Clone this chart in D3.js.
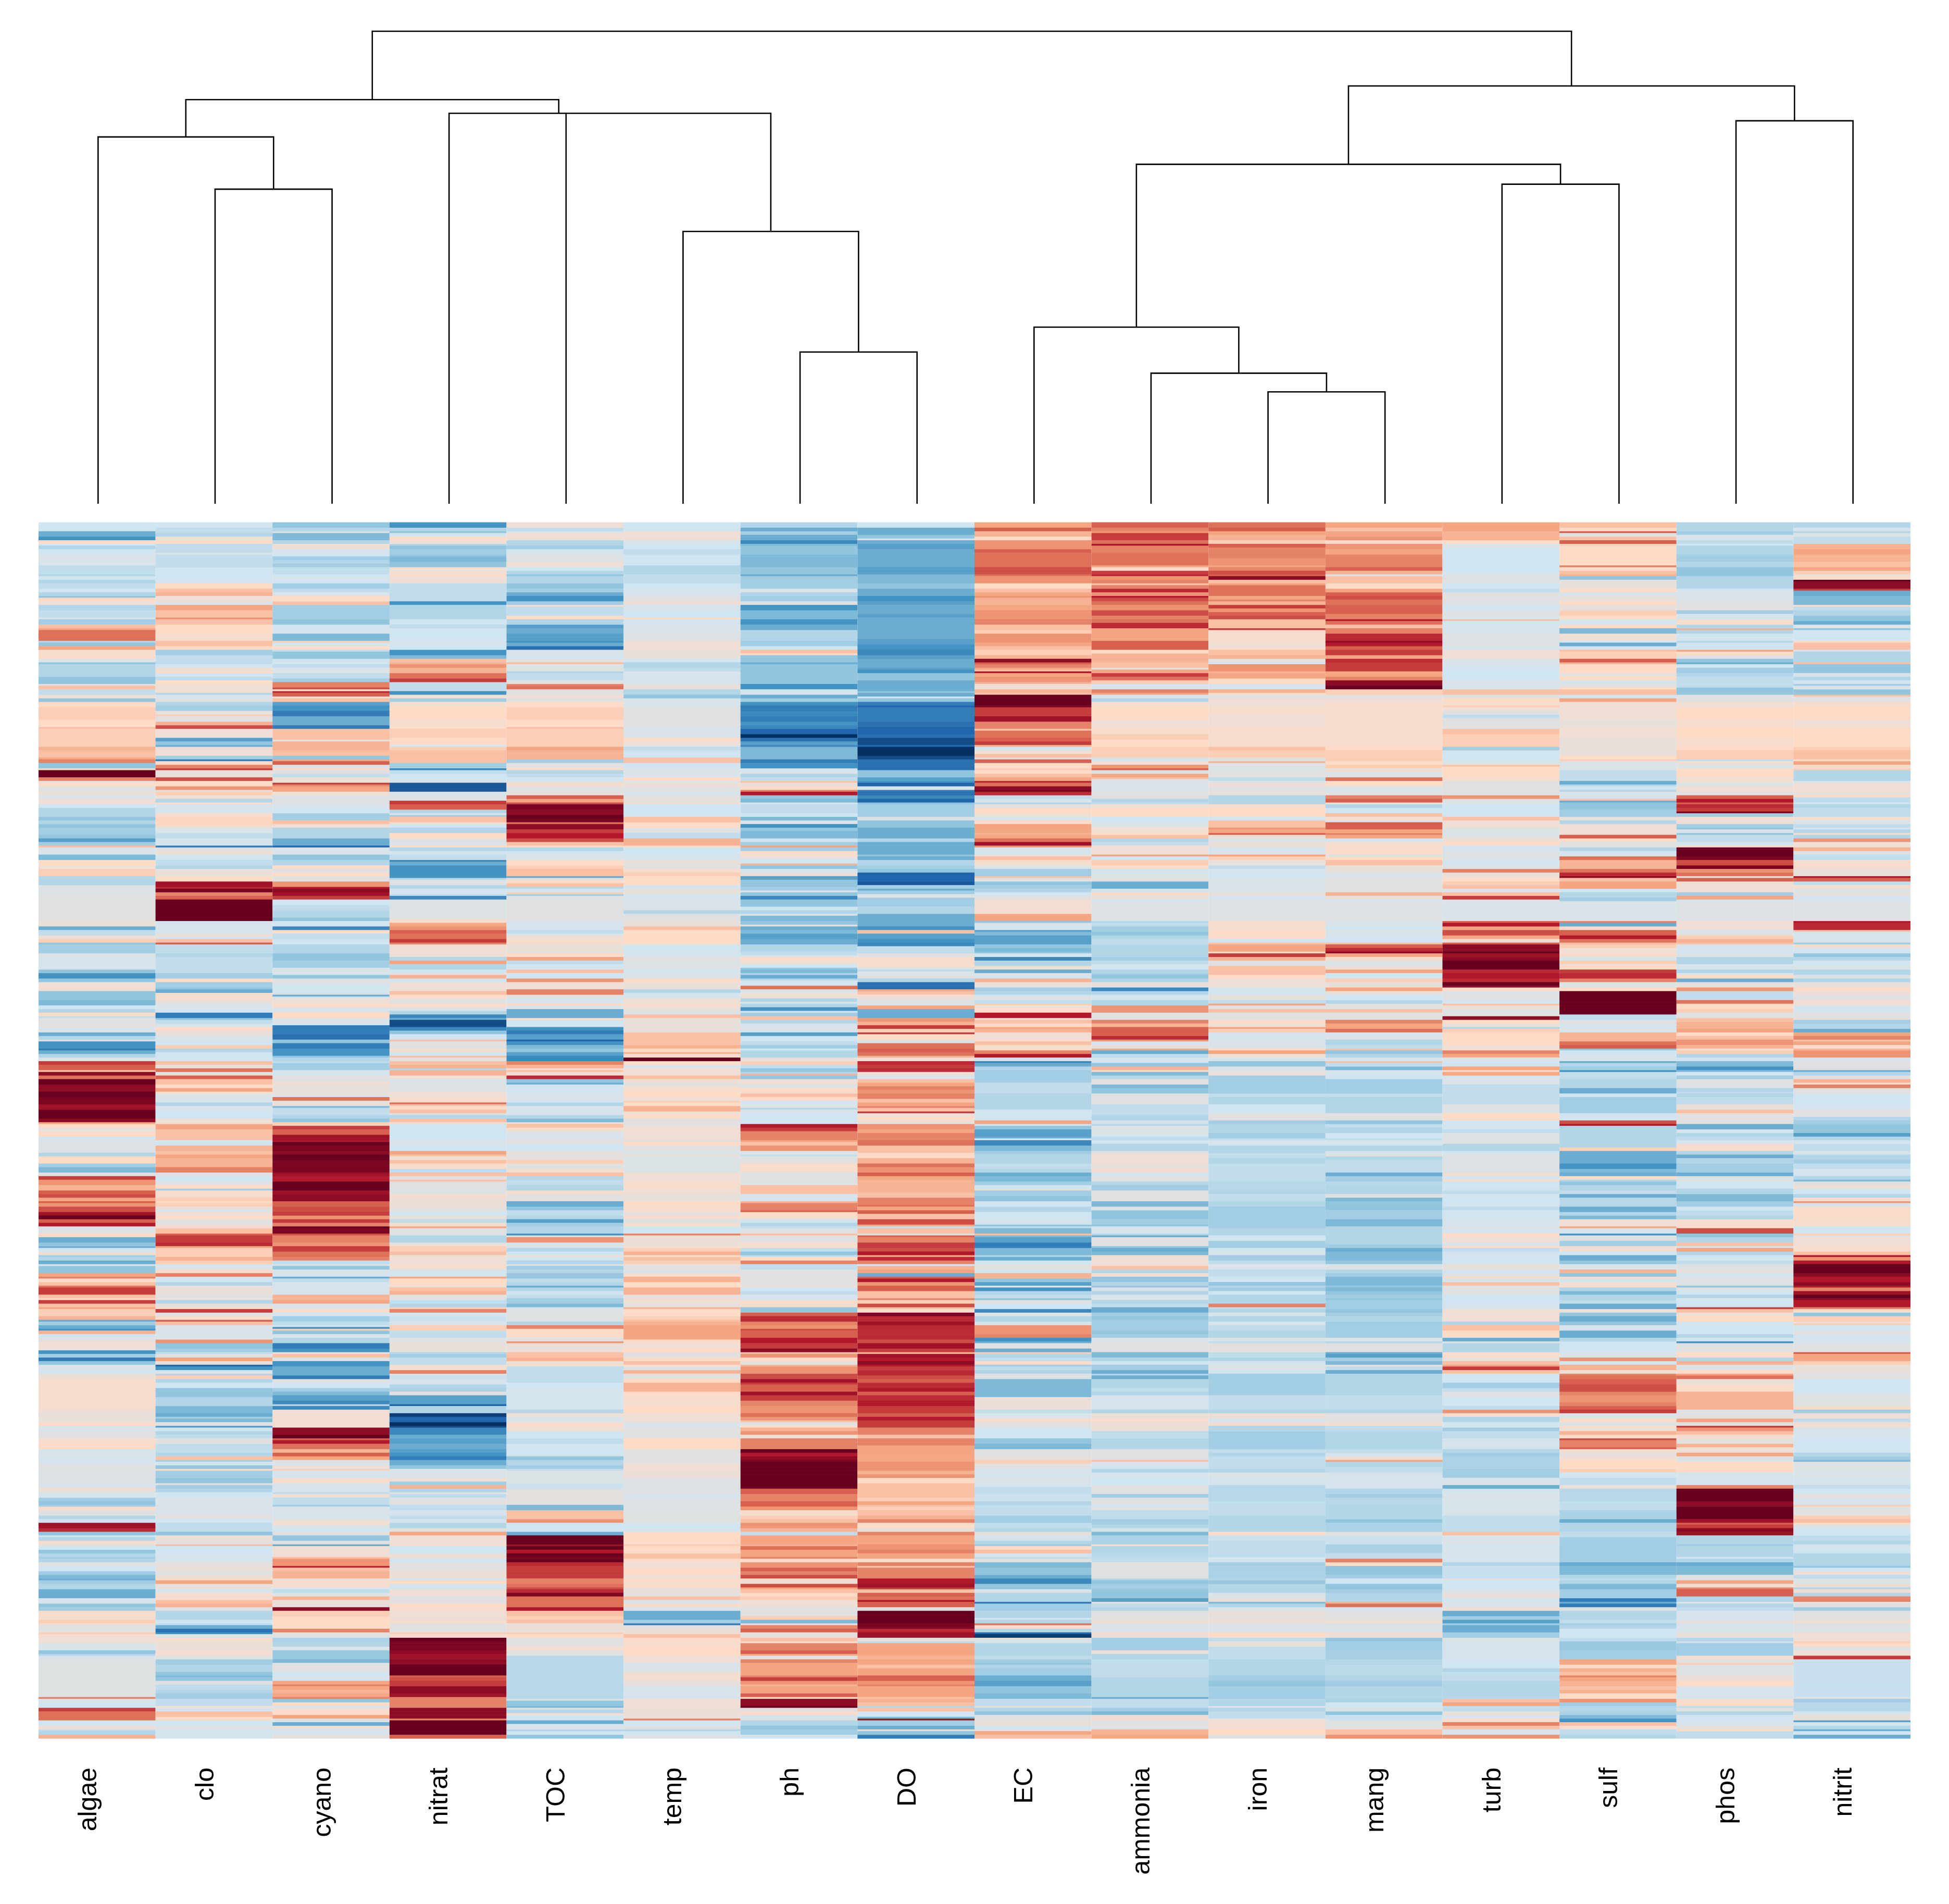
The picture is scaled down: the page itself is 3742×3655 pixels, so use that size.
<!DOCTYPE html>
<html>
<head>
<meta charset="utf-8">
<style>
  html, body { margin: 0; padding: 0; background: #fff; }
  text { font-family: "Liberation Sans", Arial, sans-serif; fill: #000; }
</style>
<script src="https://cdn.jsdelivr.net/npm/d3@7"></script>
</head>
<body>
<svg id="chart" width="3742" height="3655"></svg>
<script>
// columns, left to right, as they come off the tree
const columnas = ["algae","clo","cyano","nitrat","TOC","temp","ph","DO","EC","ammonia","iron","mang","turb","sulf","phos","nitrit"];
const totalFilas = 677;

// each column: [first row of the band, value], value on a -10..10 colour scale
const algae = [[0,-2],[5,-5],[8,-6],[10,2],[12,-2],[13,-3],[15,-2],[18,-1],[24,-2.5],[29,-3],[30,-2],[32,-3],[34,-2.5],[37,-2],[39,-3],[41,-4],[42,2],[44,1],[46,-3],[49,-2.5],[53,-1],[54,-3.5],[57,3],[59,4],[60,5.5],[66,-3],[67,-4],[69,4],[71,1.5],[74,2],[76,-1],[78,-4],[79,-3],[84,-3],[86,-4],[90,0],[91,3],[93,-2.5],[96,1],[98,-4],[100,2],[103,2.5],[110,2],[114,3],[115,2.5],[125,3.5],[127,3],[131,4],[132,5],[134,-4],[137,2],[138,10],[142,5],[144,0],[145,2],[147,0],[150,0.5],[152,-1],[154,1],[157,-2],[159,-3],[164,-4],[166,-3],[168,-4],
 [170,-3.5],[174,-4],[176,-5.5],[178,-3.5],[180,3],[181,-1],[185,-4.5],[188,2],[191,1],[193,2.5],[197,-3],[202,-0.5],[207,0],[222,0.5],[225,-5],[227,-2.5],[230,1],[232,2.5],[234,-4],[235,-3.5],[240,-0.5],[242,-1.5],[249,-4],[251,-6],[254,-4],[256,1],[261,-4],[266,-4.5],[269,-2],[271,-3],[273,1.5],[275,-2.5],[276,0],[281,-1],[284,-5],[286,-3],[288,0],[289,-6],[293,-7],[294,-5],[296,-3],[298,-1],[300,7],[302,6],[305,3],[306,9],[308,5.5],[310,10],[313,9],[317,10],[320,9.5],[324,8.5],[327,10],[332,9],[334,4],[335,2],[337,0.5],[339,2],[342,-2],
 [344,-0.5],[351,-3],[353,2],[357,-3.5],[359,-4.5],[362,0],[364,7],[366,4.5],[369,3.5],[372,6],[374,6.5],[376,4],[378,6],[379,4.5],[381,6.5],[384,8.5],[386,10],[388,6],[390,8],[392,-0.5],[396,2],[398,-5],[401,-4],[403,-5],[404,-2],[406,1],[408,-3.5],[409,-3],[411,-5],[413,-1.5],[414,-4],[418,4],[420,5],[421,2],[423,3],[425,5.5],[426,7],[430,3],[432,2],[433,7],[435,3],[437,4],[438,2.5],[442,3.5],[444,-5],[445,-3.5],[447,-5],[449,-6],[450,3.5],[452,-2],[454,0],[456,1],[461,-6],[463,-3.5],[465,-7],[467,-4],[469,-1],[472,-2],[474,0.7],[477,1.5],[494,0.7],[496,0.5],[501,2],[503,-1],[506,0],[510,1.5],[513,2],[516,-1.5],
 [518,-1],[520,-1.5],[524,0],[527,-0.5],[535,-1.5],[537,0.7],[540,-1.5],[543,-3.5],[545,-4],[547,-3.5],[548,1.5],[550,0],[553,-3],[555,-2],[557,8.5],[560,7.5],[562,-4],[564,-2],[565,-3],[567,1.5],[569,0],[570,-2],[572,-4],[574,-3],[576,-3.5],[577,-3],[579,0],[581,-2],[584,-3.5],[586,-4.5],[588,-5],[589,-3.5],[591,-3],[594,-5],[599,-1.5],[602,-4],[604,-3.5],[606,1.5],[611,2.5],[613,0.8],[614,0],[618,2.5],[619,1.5],[621,1],[624,-1],[628,-4],[630,-3],[631,-1.2],[633,-0.3],[654,5],[655,-1.2],[657,-2],[660,7],[662,5.5],[667,-2],[670,1],[672,-2.5],[673,-3],[675,3.5]];

const clo = [[0,-2],[3,-2.5],[6,-3],[8,1],[10,2],[12,-2.5],[17,0],[18,-2.5],[25,-2],[34,2],[37,3],[39,3.5],[41,1],[44,-1],[46,4],[49,3],[53,4.5],[54,3],[57,2],[62,1.5],[66,3],[69,2],[71,-3.5],[74,-2.5],[79,-2],[81,1],[83,2],[84,-2],[86,-2.5],[88,2],[90,1],[95,-3],[96,-1.5],[98,0],[100,-3],[102,-3.5],[105,0.5],[107,2.5],[108,0],[111,3.5],[113,6.5],[115,1],[120,-5.5],[122,-4],[124,-5],[125,1],[130,-3.5],[132,-7],[133,2],[135,5],[137,7],[138,0.5],[142,6.5],[144,2],[147,4.5],[149,0.5],[150,2.5],[152,1],[154,-3],[156,2],[157,-1.5],[162,1.5],[164,2.2],[169,1],
 [170,-1],[173,-2.5],[176,-1.5],[180,-7],[181,0],[183,1],[185,-2],[188,-2.5],[191,-3],[193,0.5],[197,2],[200,8.5],[203,7.5],[204,9.5],[206,5],[208,6],[210,10],[222,-1.5],[229,0.5],[231,-2],[232,3],[234,6],[235,-2.5],[240,-3],[242,-2.5],[249,-2.5],[251,-3.5],[254,2],[256,-3.5],[259,-4],[260,-5],[262,1.5],[266,0.5],[268,-1],[271,-1.5],[273,-7],[276,-4],[277,-2.5],[279,-1.5],[281,2],[283,0.5],[286,-1.5],[288,-1],[289,-2],[291,2.5],[293,-3],[295,-2],[300,3],[302,0.5],[304,5.5],[306,0],[308,6],[310,3],[313,2],[315,4],[317,2],[318,-1],[323,-3],[325,-1],[327,-2],[332,1],[335,4],[338,3],[342,3],
 [344,-2],[347,3.5],[350,3],[352,4],[354,3.5],[357,3.5],[359,5],[362,0],[364,-2],[367,0],[369,2],[371,-3.5],[372,1.5],[376,2.5],[378,2],[379,2.5],[381,0.5],[383,-1],[384,1],[386,2],[388,0],[390,-1],[391,1.5],[393,3],[396,6],[397,7],[401,7.5],[403,4],[404,2.5],[409,3.5],[411,2.5],[413,-2],[414,-1],[416,1.5],[418,5],[420,-2],[423,-3],[425,0.5],[430,0],[432,1],[433,-3],[435,0.3],[437,2],[438,7],[440,0],[442,1.5],[444,6],[445,3],[447,-1],[455,4.5],[457,-4],[460,-3.5],[462,-2.5],[463,-0.5],[465,4],[467,0.5],[469,-8],[470,-6],[472,-1],[474,-3],[475,2.5],[477,-3],[479,-2],[482,-4],[487,-3],[492,-4.5],[496,-5],[498,-3.5],[499,-4.5],[501,0],[503,-5.5],[504,-2],[506,-3],[508,-2.5],[510,0],[513,-2.5],
 [518,-3],[520,3],[522,-3.5],[523,-1.5],[525,-4],[527,2],[528,-3.5],[532,-4],[535,0],[536,-3.5],[538,-3],[540,-2],[543,-1],[547,-1.2],[548,-1],[553,0],[555,-2],[557,-2.5],[562,-4],[564,0.7],[567,0],[569,3],[570,-2],[572,-2],[574,-1.5],[579,0.3],[581,0.5],[584,-0.5],[586,0.7],[588,2],[589,4],[591,0.5],[594,-1.5],[596,1.5],[600,3],[602,3.5],[604,-0.5],[606,-3],[611,-2],[613,-2.5],[614,-5],[616,-7.5],[618,-6],[619,-1],[621,1.5],[623,0.7],[628,1.2],[631,0],[633,-3.5],[636,-3],[640,-4],[642,-4.5],[643,-4],[645,0],[647,-2.5],[650,-3],[652,-3.5],[655,-2.5],[659,1],[660,-1.5],[662,3],[665,2],[667,-2],[670,0],[672,-1.8]];

const cyano = [[0,-4],[3,-3],[5,0],[6,-4.5],[10,-3],[12,1],[15,-1.5],[18,-2],[19,-3.5],[21,-3],[23,-3.5],[25,-2.5],[29,-2],[31,-1],[32,-2],[34,-3.5],[37,-2.5],[39,-1],[41,1.8],[44,3],[46,-3.5],[54,-4],[57,-2],[59,-1.5],[62,-4.5],[66,2.5],[67,-2],[69,2],[71,-2.5],[72,-4],[74,-4],[76,-2],[79,-2.5],[81,-1],[84,-2.5],[87,-3.5],[89,5],[92,6.5],[93,2],[94,7.5],[95,6],[97,1],[98,3],[100,-5.5],[102,-6],[105,-7],[108,-5],[111,-5],[113,-7],[115,3],[120,3],[121,0],[122,3.5],[125,3.5],[127,3],[130,-4],[132,4],[133,6],[135,0],[137,1.5],[138,0],[140,-2.5],[142,1],[144,0.5],[145,7],[146,5],[147,4],[150,1],[152,-0.5],[157,-1],[159,-2],[162,-3.5],[166,3],[168,1],
 [170,-3],[173,-3],[176,-5],[180,-8],[181,-1],[185,-4],[188,-3],[191,2],[193,0],[195,2],[197,0],[200,4.5],[203,8],[204,9],[206,8.5],[208,7],[210,-2],[213,-2.5],[216,-3],[220,-4],[222,-2],[225,-6.5],[227,2],[229,-2.5],[232,-2],[235,-3],[240,-4],[244,-3.5],[248,-1],[252,-4],[254,0],[257,-2],[260,-1.5],[263,-5],[264,-2],[265,1],[268,2],[270,-1.5],[272,-0.5],[273,2],[276,-1],[280,-7],[285,-7.5],[288,-4],[290,-7],[293,-6],[297,-4],[298,-3],[300,-2.5],[301,-3.5],[305,-1],[306,-2],[308,0],[311,1],[313,0.5],[319,-1.5],[320,5.5],[322,0.5],[325,-4.5],[326,-2.5],[330,-3],[332,-4],[334,2.5],[336,7],[338,6],[341,8.5],
 [344,8],[345,10],[347,9.5],[350,9],[352,10],[355,9.5],[360,9.5],[362,8.5],[364,8],[367,10],[372,8.5],[374,9],[378,6],[381,6.5],[384,7],[386,4.5],[388,7],[390,5],[392,10],[393,9.5],[396,6.5],[397,5],[401,4.5],[403,7],[406,5.5],[409,5],[411,-2.5],[413,-1],[414,-4],[416,-0.5],[418,-2],[420,-5],[421,-2.5],[423,-1.5],[430,3.5],[433,4],[435,-1],[438,2],[440,-2],[442,-3.5],[445,-2.5],[447,-2],[448,-6],[449,2.5],[450,-4],[452,-1],[454,-3],[457,-7],[460,-6],[462,0.5],[463,3],[465,-1],[467,-6],[470,-5],[475,-7],[477,0],[479,-2],[482,-3.5],[484,-4.5],[486,-5.5],[489,-6.5],[491,-3],[492,-6.5],[494,1.2],[504,9],[508,10],[510,6],[511,8],[513,5.5],[516,3.5],
 [518,6],[520,4],[522,0],[523,-1],[525,0.7],[527,2.5],[528,-1.5],[532,1.5],[535,-1],[538,-1.5],[540,-2.5],[541,1],[543,-2.5],[547,-3.5],[548,-1],[552,-1.5],[553,-1],[555,0.7],[557,2],[558,-1],[560,-2],[562,0],[564,-4],[567,0],[569,-5],[570,1],[576,3],[577,4.5],[581,7.5],[582,3],[584,3.5],[588,0.5],[589,1.5],[593,-1],[594,-2.5],[596,-1],[598,3.5],[600,0.7],[602,0.3],[604,9],[606,2.5],[609,2],[612,2],[616,5],[618,0],[621,-3.2],[623,-3],[626,-1],[628,-3.8],[633,-4.5],[635,-1],[636,0],[640,-2],[642,-1.5],[645,4],[647,5],[648,4],[650,3.5],[652,4],[654,5],[655,-4],[657,2],[659,-2],[660,1.2],[662,2],[664,4],[666,-1],[668,-5],[670,0.7],[672,-1.5],[675,0.3]];

const nitrat = [[0,-6],[3,-3],[5,-4],[6,-2],[8,2],[10,1],[12,-3],[13,-4],[15,-3.5],[18,-4],[19,-4.5],[22,-4],[25,1.2],[29,2],[30,1],[34,-2.5],[44,-6],[46,-3],[54,-2],[57,-2.5],[59,-2],[66,-1.5],[69,-2],[71,-6],[74,-4.5],[76,3],[78,3.5],[79,4.5],[81,3.5],[84,5.5],[87,7],[89,-2.5],[94,-6],[96,1],[98,-3.5],[100,1.5],[103,2],[110,1.5],[114,2],[115,2.5],[120,2],[124,-2],[125,2.5],[127,3],[132,3],[134,-3.5],[137,-6.5],[138,-2.5],[140,-2],[144,-1],[145,-8.5],[150,-1],[152,-0.5],[155,7],[157,6],[160,-3],[162,-1],[163,-3.5],[164,3],[167,1.5],[168,-2],
 [170,-3],[173,2],[176,0],[178,-1],[180,2],[181,-3],[183,-2],[185,-2.5],[188,-6.5],[189,-5],[191,-6],[195,-6],[198,-3],[199,-0.5],[202,-3],[204,-2],[206,-1],[207,-2.5],[208,-6.5],[210,-0.5],[221,1.5],[222,2],[223,4],[225,4.5],[227,6],[229,5.5],[232,7],[234,5],[235,1],[240,1],[242,-3],[244,4],[246,-3],[249,-2],[251,0.5],[252,3.5],[254,-2],[256,1],[261,3],[263,2],[265,0.5],[266,0],[268,2],[270,-1],[272,-3],[274,-6.5],[276,-5],[277,-9],[281,-6.5],[283,-4],[285,-2],[288,3],[289,0],[293,1.5],[295,-2],[297,3],[298,0],[300,3],[302,3.5],[304,-3],[305,3.5],[308,1],[310,-1],[313,-0.5],[317,1],[320,1.5],[323,5.5],[324,3],[325,2],[327,3],[329,-1],[330,-3],[332,3],[334,1],[335,-2],
 [344,-1],[347,-2],[350,4],[352,3],[353,1],[355,3],[357,1.8],[360,-2.5],[362,3],[364,0],[366,3],[367,0],[371,-0.5],[374,1.5],[376,0.7],[382,0],[384,-2],[386,0.5],[388,-2.5],[390,1.5],[392,4],[393,-0.5],[397,-3],[401,0.5],[403,2.5],[406,3],[408,1],[413,1.5],[416,-2],[418,-1.5],[420,4],[421,2],[425,0.7],[426,3],[428,3.5],[430,0],[433,-2.5],[435,-3],[437,2.5],[438,5],[440,-1.5],[442,-2.2],[445,-1.5],[447,2.5],[450,-2.5],[454,-0.5],[456,0.5],[462,-3],[463,-3.5],[465,-2.5],[469,1.2],[472,5],[474,0],[475,-2.2],[477,-1.5],[480,-3],[482,-3.2],[484,0],[486,-5.5],[491,-8],[492,-3],[496,-9.5],[498,-8],[501,-10],[503,-9],[504,-6.5],[508,-5],[510,-5.5],[513,-5],[516,-5.5],
 [518,-6],[520,-7],[522,-5],[525,-4],[527,-1],[532,1],[534,-3.5],[536,3.5],[538,-3],[540,0],[541,-2.5],[543,-0.5],[545,0.3],[547,-2.5],[550,-1.5],[553,-2.5],[555,-1.5],[557,-3],[560,0],[562,4],[564,1],[569,1.5],[570,-2],[574,0.7],[577,-2],[579,0],[584,0.8],[588,-2],[589,2],[591,-1.5],[594,1],[598,0],[602,2],[604,1.5],[606,1.2],[609,0.8],[611,1.5],[613,0],[618,2.5],[619,1.5],[621,10],[623,9.5],[626,9.5],[628,9],[630,8.5],[633,9],[636,10],[642,6],[643,6.5],[645,7],[648,9],[652,8.5],[654,5],[660,9],[666,5],[667,10],[675,6]];

const TOC = [[0,1],[3,-2.5],[5,-1],[6,1],[10,-3],[13,-3.5],[15,-2],[16,-1.5],[18,-0.5],[22,1],[25,-2],[27,-3],[29,-4],[30,-3],[34,-4],[37,-3.5],[39,-5],[41,-6],[44,-3.5],[46,1],[47,-2.5],[52,2],[54,-3],[57,-5.5],[59,-5],[62,-5.5],[66,-6],[67,-5],[69,-7.5],[71,-1],[74,-2],[76,0],[78,3],[79,-1],[81,0],[83,-3],[84,-2.5],[88,0],[90,5],[91,5.5],[93,0],[96,1],[98,0],[100,2],[103,2.5],[110,2],[114,3],[115,2.5],[125,4],[127,3.5],[132,-3.5],[134,0],[137,2],[138,-3],[140,-2.5],[142,-2],[144,0],[145,1.5],[147,0],[150,0.5],[152,6],[154,4],[156,6.5],[157,9.5],[160,9],[163,10],[165,9.5],[167,5.5],[168,9],
 [170,9],[171,7],[173,8],[176,6.5],[178,3],[180,2],[181,-3],[183,-2],[185,-1],[188,2],[191,2.5],[193,3],[197,-5],[198,0],[199,1.5],[201,3],[203,-3],[204,-2],[206,2.5],[207,-3.5],[208,-0.5],[210,0],[222,-1.5],[227,-2.5],[229,-1],[230,1],[232,1.5],[235,0.5],[240,2],[242,4],[244,-2.5],[246,-2],[249,3],[251,-2],[254,4.5],[256,1],[260,5],[263,0],[265,-2],[266,-1],[268,2],[269,-1],[271,-5],[276,2],[277,-2],[281,-6],[283,-7],[285,-5.5],[288,-8],[289,-6],[291,-4.5],[293,-4],[295,-5.5],[297,-6.5],[300,5],[302,3.5],[304,1.5],[305,3],[306,1],[308,7.5],[310,-4],[312,-5],[313,-2],[317,-1.5],[320,-1],[322,-2],[323,-3],[325,-1],[327,-1.5],[330,-3],[332,-4.5],[334,1],[335,3],[337,1.5],[339,-1],
 [344,0.3],[346,-2],[350,0.3],[355,2.5],[357,0],[360,1.5],[362,3],[364,-3],[366,-2.5],[369,-3],[372,1.5],[374,0],[378,-5],[381,-4],[383,-2.5],[386,-3],[388,-5.5],[390,-3.5],[392,-3],[396,-6],[397,0],[398,4.5],[401,-1.5],[403,-1],[404,-3],[406,-2],[408,0.7],[409,-2],[411,-3],[413,-1],[414,-3.5],[416,-3],[418,-3.8],[420,-4],[421,-2.5],[423,-3],[425,-5],[426,-3],[428,-2],[430,-2.5],[432,-3.5],[435,-4.5],[437,-2],[438,-0.3],[445,-3],[447,5],[449,2],[452,1.8],[454,0],[456,4.5],[457,0.7],[462,3],[465,3.5],[467,1],[470,-2.5],[479,-2],[482,-1.8],[494,-2.8],[496,1],[498,-1],[501,1.5],[504,1],[506,-2],[510,-2.5],[513,-2],
 [518,-2],[520,-4],[522,-3],[525,-3.5],[527,-2.5],[528,-0.8],[535,-2.2],[538,0],[540,0.3],[547,-4.5],[550,3],[553,3],[555,4.5],[557,-2],[562,-5],[564,10],[569,8.5],[570,10],[572,8],[574,10],[576,9.5],[577,10],[579,7.5],[581,7],[588,5],[591,5.5],[593,6.5],[594,7.5],[596,9.5],[598,5.5],[604,8],[606,3],[609,2.5],[611,3],[613,0.7],[618,2.5],[619,2],[621,0],[626,1.5],[628,0],[631,-2.8],[655,0],[656,-4],[659,-4.5],[660,0],[661,-2.8],[663,1.5],[664,-2],[667,-5],[669,-1],[672,-3],[673,-2],[675,-4]];

const temp = [[0,-2],[5,1],[10,-1.5],[12,-2],[15,-2.5],[18,-2],[24,-3],[29,-2.5],[34,-2],[37,-1.5],[41,0],[44,1],[46,-1.5],[49,-2],[53,2],[54,-1.5],[57,-1],[62,-0.5],[66,1],[71,0.5],[76,-2],[78,-3],[81,-2.5],[83,-1],[84,-1.5],[90,0.5],[93,-3],[96,-4],[98,-1],[103,0],[114,-1.5],[115,-1],[120,2],[122,1],[124,-1],[125,-2.5],[127,-2],[131,3],[134,-2],[137,-1],[142,2],[144,-1],[145,1],[147,0],[150,-1.5],[152,0],[154,0.5],[156,1.5],[157,-2],[164,3],[167,2],
 [170,0],[173,-2.5],[176,3.5],[180,2],[181,-2],[185,-1.5],[188,0.5],[191,0],[193,1.5],[195,2.5],[197,2],[202,-1.5],[204,0.5],[207,-1.5],[210,-1],[216,-3],[218,0],[222,0.5],[225,3],[227,2],[235,-2],[239,-1.5],[242,0],[244,-0.5],[249,-1.5],[251,-1],[254,2],[256,0.5],[260,-3],[262,-1.5],[265,1],[268,1.5],[270,0.5],[272,-0.5],[274,3],[276,0.5],[284,3],[291,3.5],[293,2],[295,3.5],[296,1.5],[298,10],[300,2],[302,-1],[304,1],[308,3],[310,1],[312,0],[314,1.5],[317,2],[320,1],[322,2.5],[323,2],[325,3.5],[328,1],[330,2],[332,0],[336,1],
 [344,0],[345,2],[347,0],[350,-1],[352,0.5],[353,-0.7],[362,1],[367,1.5],[371,1],[374,0.5],[378,2],[381,1.5],[384,0.3],[386,1.5],[388,-0.5],[390,1.5],[392,-2],[396,5],[397,0.7],[403,1.5],[404,2.5],[406,3.5],[408,2],[409,3],[411,2.5],[413,0.3],[416,-0.5],[418,1.5],[420,3.5],[423,2],[426,3.5],[430,0.5],[432,1],[435,0.3],[437,3.5],[438,2],[442,2.5],[444,3],[445,3.5],[447,4],[455,2],[457,1],[460,2],[462,0],[465,2],[467,3],[469,2],[470,-0.5],[472,3.5],[474,0],[477,2],[479,3.5],[484,2],[486,1.5],[492,2],[496,1],[501,-1],[504,0],[510,2],[516,0],
 [518,-0.2],[524,1],[527,0.8],[532,-0.5],[541,-1.5],[543,-0.5],[550,-0.3],[557,-2],[562,2],[569,2.5],[570,2],[574,3],[577,2],[579,1],[582,2],[586,1],[588,2],[589,1.5],[591,2],[593,0.7],[596,0],[598,3],[600,-1],[602,1.5],[604,-1],[606,-5],[611,-3.5],[613,-7],[614,0],[616,0.8],[619,3],[621,2],[623,1.5],[626,2],[631,1],[635,-1],[640,1.2],[645,0.3],[648,-1.2],[655,1],[660,0.7],[666,5],[667,-2],[670,0],[672,-3],[673,-2],[675,-0.5]];

const ph = [[0,-3],[3,-5],[5,-3.5],[7,-5],[10,-6.5],[12,-4.5],[13,-4],[18,-4.5],[25,-4],[29,-5],[30,-3.5],[37,-1],[39,-3],[41,-3.5],[44,0],[46,-6],[49,-4.5],[54,-6],[57,-5],[60,-3],[66,-3.5],[69,-2],[71,3],[73,2],[74,-4],[78,-5],[79,-4],[90,-6],[93,-1.5],[96,-5],[98,-3.5],[100,-6],[102,-7],[105,-6.5],[108,-7],[111,-6],[113,-6.5],[115,-8],[118,-10],[120,-7.5],[122,-5.5],[124,-6.5],[125,-4.5],[132,-7],[134,-6],[137,-2],[138,-1],[140,-3],[142,-2.5],[144,3],[145,0.5],[147,2],[149,5],[150,8],[152,-4],[154,-4.5],[156,-1],[157,-2.5],[162,-2],[164,-4.5],[166,-1],[168,-6],
 [170,-4],[172,-4.5],[176,-2],[178,-3.5],[180,4],[181,-3.5],[183,2],[185,1],[187,-1],[188,-2],[190,3.5],[191,-4],[193,-1.5],[195,0.5],[197,-5.5],[199,-4],[203,-3.5],[205,-1],[206,-4],[208,-6.5],[210,-4],[214,-2],[216,-3],[218,-1],[219,-4.5],[222,-4],[224,0.5],[225,-5],[227,-4.5],[229,-5.5],[232,-5],[235,-3],[239,-2.5],[241,-2],[242,2],[244,1],[246,-2],[248,-4],[249,-4.5],[251,-3],[252,-5],[254,-3],[255,-2],[258,5.5],[260,-1],[262,1],[265,-3],[267,-1],[268,-3],[270,-6],[272,-2],[273,-3.5],[275,3],[277,-3],[279,-1.5],[281,-0.5],[283,-2],[284,-5.5],[286,-2],[289,-2.5],[291,-3.5],[293,-2],[294,-3],[298,0.5],[300,2.5],[302,-2.5],[304,-4],[306,-3],[307,3.5],[308,-4],[310,1],[313,-1],[315,2],[317,1.5],[318,3],[320,2],[322,-2],[324,-1],[326,-3],[327,-1],[329,-2],[335,8],[337,7],[339,5],
 [344,4],[345,3],[347,4.5],[350,-1],[352,-2.5],[353,0],[357,2],[359,1.5],[362,-0.5],[364,0],[367,-0.5],[369,3],[374,-1.5],[378,3.5],[379,5],[383,6],[384,2],[386,1.5],[388,-2],[390,-3],[392,-2.5],[393,-0.5],[396,3],[397,0],[401,1.5],[404,-2.5],[406,-4],[408,-2.5],[409,2],[411,5],[413,-2.5],[416,-0.3],[418,0],[425,1],[426,-2],[428,-2.5],[430,-1.5],[433,1.5],[437,-4],[440,6],[442,7.5],[445,5],[447,4.5],[449,6.5],[450,6],[454,8],[457,7],[460,9],[462,3],[463,4.5],[465,2],[467,0],[469,3.5],[470,4.5],[474,6.5],[477,8.5],[479,7],[480,6],[484,8.5],[486,7],[489,5],[492,4.5],[496,5.5],[498,4.5],[500,3],[501,0],[503,2],[504,3.5],[506,4.5],[508,1],[510,5],[516,10],
 [518,8],[520,9],[522,9.5],[523,10],[538,6],[541,5],[545,6],[548,4.5],[550,1.5],[553,2.5],[555,3],[557,4.5],[560,3.5],[562,-2.5],[564,4],[569,3.5],[570,5.5],[572,4],[576,5],[577,2],[579,4.5],[582,6],[584,5],[586,6.5],[588,2],[589,0.7],[591,6.5],[593,4],[594,3],[596,2],[598,2.5],[600,1],[604,0],[609,2.5],[611,-4.5],[613,0],[614,5],[616,6],[618,0.3],[621,3],[623,1.5],[624,5],[628,6],[630,4],[631,0],[633,5],[635,4],[642,5],[643,7],[645,4.5],[647,3.5],[648,4],[652,6],[654,2],[655,9],[659,10],[660,0],[662,2],[664,-1.5],[666,0],[667,-3],[670,-4],[672,-3.5],[675,-2]];

const DO = [[0,-2],[3,-5],[7,-4],[9,-1.5],[10,-5],[12,-5.5],[15,-5],[25,-5.5],[29,-4.5],[34,-4],[37,-5],[41,-6],[44,-5.5],[46,-5],[51,-5.5],[53,-5],[65,-5.5],[68,-6],[71,-6.5],[74,-5.5],[76,-5],[81,-5.5],[82,-6],[84,-4],[88,-5],[94,-4],[95,-5],[97,-2],[98,-4],[100,-7],[102,-8],[103,-7],[111,-7.5],[114,-8],[118,-7.5],[120,-9],[124,-8],[125,-10],[130,-9],[132,-7.5],[138,-4],[142,-5.5],[144,-6],[145,-8],[147,-1],[149,-7],[150,-7.5],[152,-6.5],[154,-8],[156,-4],[157,-3.5],[164,-0.5],[166,-4],
 [170,-5],[176,-3],[178,-5],[185,-4],[186,-5],[188,-3],[191,-3.5],[193,-4],[195,-8],[200,-8.5],[202,-3.5],[204,-5],[205,-3.5],[207,-0.5],[209,-3.5],[214,-3],[218,-5],[225,-6],[227,3],[229,-5.5],[232,-6],[234,-6.5],[236,-2.5],[240,0],[242,1.5],[248,-2],[249,-2.5],[250,-1],[252,0],[254,-3],[256,-7.5],[260,4],[261,3],[263,1],[265,0.5],[266,-0.5],[268,-1],[269,4],[271,-5],[276,4.5],[278,3.5],[280,7],[282,2.5],[284,7],[285,2],[288,-0.5],[290,5.5],[293,6],[295,5.5],[297,3.5],[298,1],[300,7.5],[302,7],[304,7.5],[306,1],[308,-1],[310,3],[312,4],[314,5],[316,4.5],[318,5],[321,3],[323,4],[325,5],[326,3],[328,7],[329,1],[331,2],[333,0.5],[335,4.5],[338,4],[340,5],
 [344,5.5],[347,3],[351,2],[354,3.5],[357,5.5],[359,4.5],[362,6],[364,4],[366,3.5],[373,3],[376,5],[380,5.5],[381,4],[383,6],[385,3],[388,6.5],[391,4],[392,-2.5],[393,3],[396,0],[397,6],[398,5],[401,7],[404,6.5],[406,8],[408,4],[409,7.5],[411,5],[413,-2],[414,3.5],[416,4],[418,-5],[420,6],[421,8],[423,4.5],[425,6],[428,3],[432,5],[433,2.5],[435,6.5],[437,3],[438,1.5],[440,9.5],[442,7.5],[445,8.5],[447,7.5],[455,6.5],[457,8.5],[460,7],[462,3.5],[463,8.5],[465,8],[467,9],[469,8],[470,7],[472,7.5],[475,6.5],[477,6],[479,7.5],[482,8],[484,6],[486,7.5],[489,8],[492,7],[496,6],[498,8],[500,7],[504,5],[508,3],[510,5],[514,4],
 [518,4],[523,4.5],[528,3.5],[530,4.5],[532,2],[535,3],[543,2.5],[545,4],[547,3],[548,2.5],[550,3],[553,3.5],[555,5],[557,2],[560,0.5],[562,5],[564,4],[569,4.5],[572,5],[574,4],[577,2],[579,5],[581,3],[582,5],[588,8],[591,8.5],[593,7],[594,3],[596,6],[598,5.5],[600,8],[601,6],[604,0],[606,10],[613,9.5],[616,7.5],[618,8.5],[621,0.5],[623,-2.5],[624,4],[631,3.5],[633,4],[636,3],[638,4],[642,6],[645,4.5],[647,5],[648,4],[654,3],[655,3.5],[657,3],[659,-3],[660,3],[662,-2],[665,-4.5],[666,8.5],[667,-3.5],[670,-5],[672,0],[673,-4],[675,-7]];

const EC = [[0,4],[3,6],[5,3.5],[8,2],[10,4.5],[15,6],[17,5.5],[25,6.5],[29,5.5],[30,4.5],[34,2],[37,3],[39,4],[41,4.5],[42,3.5],[46,4],[49,4.5],[54,5],[57,3],[60,2.5],[62,4.5],[67,4],[69,3],[71,2.5],[74,3.5],[76,9],[78,6],[79,5],[81,4],[82,3],[83,8],[84,4],[86,4.5],[89,3.5],[90,1],[93,3.5],[95,3],[96,10],[102,9.5],[103,7],[108,8.5],[111,5],[115,3],[116,5.5],[120,6],[122,7],[124,3.5],[125,-2],[127,1],[129,3],[131,0],[132,6],[134,2],[137,2.5],[138,2],[140,3],[142,4],[144,7.5],[145,5.5],[147,9],[149,9.5],[150,7.5],[152,-2.5],[154,-1],[156,-3],[157,0],[159,2],[162,1],[164,-1],[166,2],[168,4],
 [173,3.5],[174,4],[176,5.5],[178,8.5],[180,4.5],[181,-1],[183,-2],[185,1],[186,3],[188,1.5],[191,-1],[193,-3.5],[197,3],[198,0],[200,-4],[202,-3.5],[204,-3],[206,-2],[208,0],[210,1.2],[218,4],[222,-4],[223,-1],[225,-2],[227,-5.5],[228,-4.5],[230,-5.5],[235,-4],[237,-4.5],[239,-4],[240,-2],[242,-6.5],[244,-3],[247,1],[249,-5],[251,0.5],[252,-2],[254,3.5],[256,0.5],[259,-3.5],[261,-3],[263,-2],[264,0],[266,-2.5],[268,2.5],[269,1],[271,2],[273,8],[276,1],[277,3],[279,2],[281,4],[282,3.5],[284,1],[288,2],[289,3],[291,1.5],[294,5],[296,8],[298,-1.5],[300,-6.5],[301,-5],[303,-3],[305,-3.5],[312,-2.5],[318,-3],[327,-2],[333,4],[335,-2],[336,-4],[338,-5.5],[342,-5],[343,-2],
 [344,-6.5],[347,-4.5],[350,-3.5],[352,-3],[357,-2.5],[360,-3],[362,-5],[364,-4.5],[367,-3.5],[369,-2],[371,0],[372,-3.5],[375,-4],[378,-2],[381,-3],[384,-2],[388,-1.5],[391,-4],[392,-2.5],[393,-4.5],[396,3],[397,-4.5],[398,-5.5],[401,-7],[404,-4.5],[408,-3],[409,-5],[411,-2],[413,0],[416,-2],[418,3.5],[421,-4],[423,-5.5],[425,0],[426,-6],[428,-3],[430,-2.5],[432,-4],[433,0],[435,-2],[438,-6.5],[440,-1],[442,-3],[445,-1.5],[447,4.5],[452,5],[454,-6],[456,-5],[457,0],[460,-5],[462,2.5],[463,-3],[465,-2.5],[467,2],[469,-3.5],[470,-2.5],[472,-3],[474,0],[477,-4.5],[487,0.7],[494,-2.5],[496,-1],[499,1.5],[501,0],[504,-2],[510,-4],[513,-4.5],[516,0],
 [518,0],[520,0.5],[522,2.5],[524,0],[527,-2],[528,-1.5],[532,-1],[535,-1.5],[537,-2.5],[541,-2.2],[545,-3],[547,-2.5],[553,-3.5],[557,-2.5],[560,-3],[562,0.5],[564,-1.5],[567,-3],[569,-3.5],[570,2],[572,3],[574,-2],[576,-2.5],[577,0],[579,-4.5],[582,-4],[586,-5],[588,-6.5],[591,-4],[594,-1],[596,-3],[601,-7],[602,-3.5],[606,-3],[610,-1.5],[611,-3],[613,5.5],[614,1.5],[616,-3],[618,-8],[619,-9.5],[621,0],[623,-1.5],[624,-3],[631,-2.5],[633,-3.5],[635,-4],[636,-3],[638,-3.5],[642,-5],[645,-5.5],[648,-4],[652,-4.5],[655,-2.5],[659,0],[660,-3],[662,-4],[664,0],[667,0.5],[670,-2],[672,0.5],[673,4],[675,3]];

const ammonia = [[0,6],[3,5],[5,4.5],[6,7],[10,5.5],[12,8],[13,5],[17,5.5],[24,4],[25,2],[27,7],[29,7.5],[30,4.5],[32,5],[34,3],[35,5],[37,7.5],[39,4.5],[41,8],[42,6.5],[44,5.5],[46,4.5],[49,6.5],[52,5],[54,5.5],[56,7.5],[59,4],[66,6],[71,2],[73,3.5],[78,3],[81,0],[82,4],[84,7],[86,5.5],[88,2.5],[90,-1.5],[93,5],[95,4],[96,-1],[98,-3],[100,1.5],[103,2],[110,1],[114,1.5],[118,2.5],[121,2],[125,2.5],[131,-1.5],[133,1],[135,4.5],[137,6],[138,-0.5],[140,4],[142,3],[143,0],[144,-1],[150,0],[154,-3],[156,-2.5],[157,1],[159,2],[164,-2],[167,-1],
 [170,2],[171,1],[173,2],[174,3],[176,-3],[178,-2.5],[180,1],[185,4],[186,-2],[188,2.5],[191,2],[193,-1.5],[195,-1],[197,0],[200,-5],[204,-1.2],[206,1.5],[208,0.5],[210,-2],[211,-0.5],[222,-3],[223,-2.5],[225,-3.5],[228,-4],[230,-3],[232,-2.5],[235,-3],[242,-3.5],[244,-2.5],[246,-2],[249,-3],[251,-3.5],[252,-4],[254,-3],[256,0.5],[259,-6.5],[261,-3],[263,-2],[264,-1.5],[266,-3],[269,4.5],[273,0],[277,5],[279,3.5],[281,6],[286,7.5],[288,4.5],[289,-1.5],[291,0.5],[293,4],[294,-5],[296,-2.5],[298,-1.5],[301,-4],[303,3.5],[305,1.5],[306,-4.5],[308,-3],[310,0],[313,-4.5],[315,-4],[318,0],[324,-2.5],[330,-3],[333,-1.5],[335,-3],[336,-0.5],[340,-1.5],[342,-2.5],
 [344,-2],[346,-3],[350,0],[352,1],[357,0.5],[360,1.5],[362,-2],[364,0],[367,-3],[369,-3.5],[372,0],[378,-4.5],[381,-1],[383,-4],[388,-3.5],[391,-4],[392,-2],[393,-1],[396,-3],[397,-5],[398,0],[403,-4],[404,-5],[406,-4.5],[408,1],[414,3],[416,-3],[418,1],[420,-4],[423,-3],[425,-4],[426,-1],[428,-3],[430,-1],[433,-3],[435,-2.5],[437,-5],[440,-3.5],[442,-4],[444,-3.5],[450,-4],[452,-3.5],[454,-1],[456,0],[462,-4.5],[465,-3],[467,-2],[469,-3.5],[472,-5],[474,-3],[475,-5],[477,-3],[482,-2.5],[484,-3],[486,-1.5],[494,-3],[496,0.7],[499,1.7],[501,0.7],[506,-2.5],[510,-3],[516,0],
 [518,0],[522,3],[523,-1.5],[527,-3],[529,-1.5],[532,-2],[536,0],[541,-3.5],[543,0],[547,-2],[548,0],[550,-2.5],[555,-3.5],[558,-3],[560,-1.5],[562,-4.5],[564,-3.2],[569,2],[570,-3],[574,-2.8],[576,-2.5],[579,0],[588,-3],[589,-4],[591,-3.5],[594,-4],[599,-5.5],[601,0],[602,-2.5],[604,-3],[606,0],[611,0.7],[613,-1],[618,1],[621,-3.5],[628,0.7],[630,-3],[633,-2.5],[643,-3],[654,-5],[655,-2.5],[660,-3.5],[662,-4.5],[664,1.2],[667,0],[670,-1],[672,3.5],[675,4]];

const iron = [[0,5.5],[3,6],[5,4],[7,3.5],[10,2.5],[12,6],[14,5],[20,4.5],[24,4],[25,5],[27,6.5],[29,6],[30,9],[32,3],[34,4],[35,5.5],[41,4],[43,5],[44,3.5],[46,7],[48,4.5],[50,6],[52,6.5],[54,3],[59,7],[60,1.5],[67,1],[70,2],[71,3],[74,3.5],[76,0],[78,-2],[79,4.5],[83,3.5],[84,4],[87,2],[90,-1.5],[93,3.5],[95,2],[96,0],[98,1],[103,1.5],[107,1],[114,2],[115,1.5],[125,3],[127,2.5],[131,0],[133,3.5],[134,0],[136,-1],[138,0],[142,-2.5],[144,-1],[145,1],[147,0],[150,0.5],[152,-3],[157,1.5],[159,2],[164,-2],[166,3],
 [170,4.5],[171,4],[173,6],[174,0.7],[176,-1],[178,0.5],[181,-1.5],[185,4],[186,2.5],[188,0.5],[191,-2.5],[193,-1.5],[195,-2],[198,-1],[206,0.5],[208,-1.5],[210,-0.5],[222,1.5],[228,2],[230,1.8],[232,-2],[234,3],[235,4],[239,2],[240,7],[242,3.5],[244,0],[247,3],[252,2],[254,1],[259,-1.5],[261,-2],[263,0.5],[266,-2.5],[268,4],[269,0],[271,3],[273,0],[277,2],[279,1],[281,4],[282,2.5],[284,-1.5],[288,-1],[293,2],[294,4],[296,1],[298,-1.5],[300,-4],[303,-1],[306,1],[308,-3.5],[318,-2.5],[320,-3],[324,-2],[329,0],[333,-3.5],[335,-3],[340,-3.5],[343,-2.5],
 [344,-1.5],[347,-3],[351,-2.5],[354,-3],[357,-2.5],[367,-2.8],[372,-3],[374,-2.5],[378,-3],[381,-3.5],[393,-3],[397,-1.8],[400,-3.5],[404,-2],[406,-1],[408,-3.5],[411,-2.5],[413,-1],[416,-2.5],[420,-2],[423,-4],[425,-3],[426,-3.5],[428,-2],[430,-3],[435,5],[437,-2.5],[438,-3],[440,-1.5],[442,-3],[445,-1.2],[447,-2.5],[450,-3],[454,-1],[456,-2.5],[457,0.3],[462,-2.5],[465,-3],[467,-1.2],[469,-0.5],[472,-2],[474,-3.5],[486,-2.5],[494,-3],[496,0.7],[499,-1.5],[501,1.2],[503,-3],[506,-3.5],[516,-2.5],
 [518,-3],[520,-2.5],[527,-3],[529,-1],[532,-1.5],[536,-2.8],[545,-2.5],[553,-3],[562,2],[564,-2.2],[567,-2.5],[576,-2],[579,-3.5],[581,-3.2],[588,-3],[589,-3.8],[591,-3],[596,-1],[599,0.5],[601,-4.5],[602,-3],[604,-1],[606,0.5],[611,1],[613,-1],[618,2],[621,-2.5],[623,0.5],[626,-2.5],[633,-3],[642,-3.5],[645,-4],[648,-3.5],[655,-3],[659,-1],[660,-3],[662,-2.5],[666,1.2],[672,2],[675,0]];

const mang = [[0,4],[3,3],[5,4],[8,4.5],[10,1.5],[12,4.5],[15,4],[18,5],[25,6],[27,3.5],[29,0],[30,3],[34,2],[37,4],[39,6],[41,6.5],[43,5.5],[46,6],[51,5],[54,8],[55,5.5],[57,3],[59,5],[62,7.5],[66,9],[67,8],[69,6],[71,7],[74,4],[76,7.5],[78,7],[83,4],[86,5],[88,9],[91,10],[93,2.5],[96,0],[98,1],[100,1.5],[125,2],[127,2.5],[133,2],[135,2.5],[137,1],[139,-0.5],[142,5.5],[144,2],[147,-1],[150,0],[152,5],[154,6],[156,1],[157,-3],[159,-2],[162,3],[164,1.5],[166,-1],[167,6],
 [170,6],[171,4],[173,5],[174,4],[176,-2],[178,1.5],[183,2],[185,-1.5],[186,2],[188,3],[191,0.5],[195,-1],[198,0],[206,3.5],[208,0.5],[210,-1.5],[211,-0.5],[222,-1],[225,-2],[227,-0.5],[228,-1.5],[232,-2],[234,3],[235,6],[237,7.5],[239,9],[240,4],[242,1.5],[244,-1],[247,1],[249,4],[251,-2],[254,2.5],[256,0.5],[259,4],[261,0.5],[263,-2],[266,-3],[268,0],[271,3],[273,0],[277,5],[279,4],[282,5.5],[284,-2],[286,-0.5],[288,-3],[291,-2.5],[293,3],[294,-4],[296,-3],[298,-1.5],[300,3],[301,-2.5],[303,-4.5],[305,-1.5],[308,-2],[310,-3.5],[318,-2.5],[320,-3],[329,0],[333,-4],[335,-2.5],[337,-3],[340,-2],[343,-2.5],
 [344,-1.5],[347,-3],[350,-1.2],[352,0.3],[353,-3],[355,-2.5],[362,-5],[364,-3.5],[367,-2.8],[369,-3],[374,0],[376,-4.5],[378,-4],[383,-3.5],[388,-4.5],[392,-3],[402,-3.5],[404,-5],[406,-4.5],[411,-4],[413,-0.5],[416,-3],[418,-3.5],[420,-4.5],[425,-4],[426,-4.5],[428,-4],[430,-3.5],[432,-4],[433,-3.5],[438,-4],[440,-3.5],[442,-3],[445,-3.5],[454,-1],[456,-3],[457,0],[462,-5],[463,-5.5],[465,-3.5],[467,-4.5],[469,0.3],[470,-2.5],[472,-5],[474,-3],[486,-2.5],[494,-3],[496,0],[501,1.2],[503,-2.5],[506,-3],[516,-2.5],
 [518,-1.5],[520,1],[522,4],[523,-3],[526,-2.5],[529,-1.2],[536,-1.5],[538,-3],[541,-3.5],[543,-2.8],[547,-3],[555,-4],[557,-3.2],[562,0],[564,-2.2],[569,-3.2],[574,-2.5],[577,5],[579,2],[581,-4],[586,-3.5],[588,-2],[591,-4],[594,-3.5],[596,-3],[601,3.5],[602,5.5],[604,-1.5],[606,0],[611,1],[613,-0.8],[618,1],[621,-4],[623,-3.5],[628,-3.3],[633,-3],[636,-2.7],[642,-3],[645,-3.5],[648,-3],[655,-3.2],[657,-2],[660,-1],[662,-4],[664,-2.2],[667,-0.3],[672,3],[675,4.5]];

const turb = [[0,4],[5,3.5],[10,2],[12,-1],[15,-2],[29,-0.5],[34,-2],[37,-2.5],[39,0],[44,-0.5],[46,-2],[49,-0.5],[52,-1],[54,3],[55,-2],[57,-1.5],[62,-0.5],[69,-1.5],[71,1],[76,-1],[79,-1.5],[81,-2],[88,-0.5],[90,-1.5],[93,3],[96,0],[98,2],[100,1.5],[102,2.5],[103,1],[105,0],[107,-2.5],[109,0],[114,-0.5],[115,3],[118,2.5],[125,-3.5],[127,-2],[133,-1],[135,3],[136,2],[142,1.5],[144,0],[152,4.5],[154,-0.5],[156,-1],[157,-2],[164,3],[166,1],
 [170,-0.5],[173,-1.5],[174,0],[176,1],[178,2],[180,-1.5],[183,-0.5],[188,-2],[191,-0.5],[193,5],[195,0.8],[198,2],[200,2.5],[202,3],[204,-1],[206,3],[208,7],[210,-1],[222,6],[223,8],[225,4],[227,6.5],[230,4],[232,1],[234,6],[235,9],[239,10],[240,8.5],[242,9],[244,10],[249,7.5],[251,8],[254,7.5],[256,10],[258,9],[259,2],[261,-1],[263,0],[266,-1.5],[268,3],[269,1],[271,-0.5],[273,0],[275,9],[277,2],[279,0.5],[281,-3],[282,2.5],[284,2],[291,1],[294,5],[296,4],[298,-1],[300,-2],[303,4],[305,2],[306,4],[308,-1],[313,-2.5],[324,-0.5],[329,2],[333,-2],[336,-1.5],[338,-2.5],[340,-0.5],
 [344,0],[346,-3],[350,-2],[352,-0.5],[362,1],[364,-1.5],[366,2],[367,-2],[372,-2.5],[374,-2],[381,-2.5],[383,-2],[388,-1.5],[392,-0.5],[393,-1.5],[396,2],[398,1],[401,-1],[403,2],[404,-2.5],[406,-1.5],[408,-2],[413,0.5],[416,-2],[418,0],[420,1.5],[421,-1.5],[423,3],[425,0],[430,-2],[435,-1.5],[438,1],[445,-3],[447,3],[450,2],[454,-5],[456,-0.5],[457,-3],[462,1.5],[465,0.5],[467,3],[469,4],[470,7],[472,3],[474,-2],[479,-3.5],[482,-2.5],[484,-0.5],[487,-2],[492,-2.5],[494,4.5],[496,1.5],[498,-3],[501,-2],[504,-3.5],[506,-2.5],[510,-1.5],[516,-3],
 [518,-3.5],[520,-3.2],[527,-3.5],[532,-1],[536,-5],[538,-1.5],[541,-1],[545,-1.3],[553,-2.5],[562,3],[564,-1],[569,-1.5],[579,-3],[581,-2.3],[588,0],[589,-2],[594,-1],[596,0.5],[599,-2],[601,-1],[604,1],[606,-5],[609,-3.5],[611,-5.5],[613,-3.5],[614,-5],[618,-3.5],[621,-0.5],[623,-1.5],[633,-2],[638,-3],[640,-2.5],[645,-3],[655,3],[657,4],[659,-2.5],[662,0.5],[664,-1],[666,1.5],[668,5],[670,3],[672,-1],[675,4.5]];

const sulf = [[0,3],[3,2],[5,6],[6,0],[8,3],[10,6],[12,2.5],[13,2],[24,5],[25,2],[27,3],[29,3.5],[30,-4],[32,0.5],[37,2],[39,-1.5],[41,0.5],[44,2],[46,0.5],[49,2.5],[52,2],[54,-1.5],[57,2],[59,-4.5],[62,1],[66,-2],[67,-5],[69,-1.5],[71,3],[72,2.5],[76,6],[78,3.5],[79,2],[84,0.5],[86,2],[88,-1.5],[90,0],[92,2],[93,3],[96,-2],[98,4],[100,1],[110,0.5],[114,1],[120,0.5],[130,2],[132,2.5],[133,-1],[138,-2.5],[144,-5],[146,-3],[147,-2],[149,-3],[150,-1],[152,-1.5],[154,3],[155,-5],[156,-4],[160,-3.5],[164,0.5],[166,-3],[168,1],
 [170,1],[174,6],[176,2],[178,0],[181,-3],[183,-1.5],[186,5.5],[188,3.5],[193,5.5],[195,7.5],[197,9],[198,3],[200,4],[204,-2],[206,-3],[209,-3.5],[211,-1],[222,5],[223,-5],[225,1.5],[227,6],[230,8],[232,5.5],[234,3],[235,2.5],[237,1],[239,1.5],[242,-1.5],[244,2.5],[246,1],[247,2],[249,7],[251,7.5],[254,5],[256,-1],[259,2],[261,10],[274,-2.5],[277,0],[279,-1.5],[282,-1],[284,3.5],[289,5.5],[291,6],[293,-4],[294,-2],[296,-1.5],[300,-5],[301,-3],[303,-3.5],[305,-6],[306,-2.5],[310,-3],[315,-5],[318,-2],[320,-3.5],[329,-2],[333,6.5],[335,8],[336,-3],
 [344,-3],[348,2.5],[350,-5],[357,-6],[360,-4.5],[362,-5],[364,2],[366,-3],[367,-4],[369,-3],[372,-2.5],[374,-5],[376,-2.8],[381,-5],[384,-3],[386,-4.5],[388,1],[392,4],[393,-1.5],[396,-6],[397,0],[400,-3.5],[403,1],[406,-2],[408,-5],[411,-4],[413,-1],[416,3.5],[418,-4],[420,2],[421,-1.5],[423,1],[425,2],[426,-3],[428,-4.5],[430,-3],[433,-2.5],[435,-5],[438,1],[440,-4],[442,-5],[445,-4],[447,-1.5],[450,-5],[454,-3],[456,-2],[462,-1],[465,4.5],[467,-2],[469,3.5],[472,1],[474,5],[475,5.5],[477,6],[480,6.5],[484,5],[486,4.5],[490,5],[492,6],[494,7],[496,-0.5],[499,2],[501,-0.5],[503,1.5],[504,1],[506,3.5],[508,2],[510,6.5],[511,5],[515,6],[516,1],
 [518,0.5],[520,1],[522,2],[527,2.5],[529,-2],[532,-2.5],[536,0.5],[538,-2.8],[545,-2.5],[550,-3.2],[555,-5],[557,-3],[562,-2.5],[565,-3.5],[579,-5],[581,-4.5],[586,-3],[588,-2.5],[589,-3],[591,-4.5],[594,-3.5],[599,-7],[601,-5],[602,-7],[604,0],[606,-3],[611,-2.5],[613,-3.5],[614,-3],[616,-2],[621,-2.5],[623,-3.8],[628,-3.5],[633,4],[636,2],[638,3.5],[640,3],[642,5],[643,4],[645,3.5],[648,3],[650,3.5],[652,2],[655,4.5],[657,-3.5],[659,-3],[662,-3.2],[664,-4.5],[666,-6],[668,3],[670,1.5],[672,-2.5],[675,-3]];

const phos = [[0,-3],[5,-3.5],[7,-1],[10,-2.5],[12,-2],[13,-3],[18,-3.5],[22,-3],[25,-4],[30,-3],[37,-1.5],[39,-1],[44,-0.5],[46,0],[49,-3.5],[51,-1.5],[54,1.5],[57,-3],[59,3.5],[60,-3],[62,-2],[66,-3],[67,-2],[71,4],[72,2],[74,0],[76,-4],[78,-5],[79,-2],[81,-3.5],[84,-3],[86,-2.5],[92,-4],[96,0],[100,1],[103,2],[110,1.5],[114,2],[120,1.5],[125,2],[127,2.5],[132,-2.5],[133,1],[135,-1],[137,2],[142,1],[145,-0.5],[147,1],[150,0],[152,6],[154,8],[156,6],[157,7.5],[159,7],[161,9.5],[162,-3.5],[164,1],[168,-3.5],
 [170,-4],[171,-1],[173,-4],[174,-2.5],[178,-1.5],[180,1.5],[181,10],[186,9.5],[188,6.5],[191,9.5],[193,4.5],[195,5.5],[197,0.5],[198,6],[200,1],[206,-3.5],[208,4],[210,-2],[211,-0.5],[222,1],[227,-1.5],[228,0],[230,2.5],[232,3.5],[234,3],[235,-1.5],[239,-2],[240,-0.5],[242,-3],[246,-1],[247,-1.5],[249,-3],[251,-1],[252,2],[254,-5],[256,0.5],[259,4.5],[261,-2.5],[266,5.5],[268,2],[271,2.5],[273,0],[276,3],[278,3.5],[282,4],[284,2],[286,3],[288,4.5],[291,3.5],[293,1],[294,2.5],[296,-3],[298,-1.5],[300,-4.5],[303,-6],[305,-4.5],[306,-2],[308,-3.5],[310,0],[313,-0.5],[315,-3],[317,-2.5],[318,-3],[320,-2.5],[324,0.5],[327,3],[329,0],[335,-5],[338,-1.5],[340,-3],[342,-2.5],
 [344,-1.5],[346,1.5],[350,-3],[352,-5],[354,-3],[357,-3.5],[362,-5],[364,-0.5],[367,-2],[371,-3],[374,-4.5],[378,-3.5],[381,-2],[383,-2.5],[386,-3],[388,1.5],[392,2],[393,6.5],[396,-4],[398,-3],[401,3],[403,-1.5],[404,4],[406,-3],[408,-2],[411,-2.5],[413,-0.5],[416,0.5],[418,-2],[420,-0.5],[425,-4],[426,-0.5],[428,-2],[430,-3],[432,-1],[433,-2],[437,7],[438,3],[440,1],[442,2],[445,-2],[452,-3],[454,-2],[456,-6],[457,0],[462,2],[465,-3],[467,3.5],[469,-0.5],[472,2],[474,4],[475,5.5],[477,0.8],[480,1.8],[484,3.5],[494,-0.5],[496,0],[499,4],[501,0],[503,7],[504,4.5],[506,3],[508,1.5],[510,0.5],[513,3.5],[515,1],
 [518,4],[520,-0.5],[523,2],[529,-1.5],[536,5],[538,10],[545,9],[548,10],[555,8.5],[557,6],[558,7],[560,9],[562,8.5],[564,-3],[569,-3.5],[570,-3],[576,-1.5],[577,-3],[579,-5],[581,-4.5],[586,0],[589,4],[591,1],[593,5],[594,6],[598,-3],[601,-1],[602,-3],[604,-2.5],[606,-1.5],[611,0.3],[613,-1.2],[618,0.5],[621,-3],[623,-2],[624,-3.5],[631,1.5],[633,0],[635,2.5],[636,-0.5],[642,0.7],[645,2],[648,-1.3],[654,-2],[655,1.5],[657,2],[659,-2.5],[660,0],[662,-3],[664,-2],[667,-1.5],[670,0.5],[672,2],[673,-2.5]];

const nitrit = [[0,-3],[3,-1.5],[5,-3],[6,-1],[8,-2.5],[12,3.5],[15,4],[18,3.5],[22,3],[25,4],[27,2.5],[29,1],[30,1.5],[32,10],[33,9],[37,7],[38,-5],[41,-4.5],[46,2],[47,-2.5],[49,-3],[52,-4],[55,-5],[57,-1],[59,-4],[60,-2],[66,2],[67,3],[71,-1.5],[72,-3],[78,3],[79,-4],[84,-1],[86,-3],[88,-2],[90,-3.5],[91,-1],[93,-4],[96,3],[97,0],[100,1.5],[102,2],[110,1],[114,2],[125,2.5],[127,3],[132,2],[133,4],[135,1.5],[137,2.5],[138,-3],[144,-2],[145,1],[150,0.5],[152,2],[153,-2.5],[156,-2],[157,-3],[159,-2.5],[164,1],[166,-1],[168,-2.5],
 [170,-1.5],[171,-3],[173,1.5],[174,-3],[176,4.5],[178,1],[181,3.5],[183,0],[185,-2.5],[188,1.5],[193,0.5],[197,8],[198,6],[200,-2.5],[202,1.5],[204,-1],[206,0.5],[208,-1.5],[211,-0.5],[222,8],[223,7.5],[227,3],[228,-1.5],[234,-3.5],[235,1.5],[237,-2],[240,-4],[242,-3],[244,-2],[247,-0.5],[249,-3],[252,-0.5],[254,-3],[256,0.5],[259,2],[261,1],[263,0],[266,1],[269,-2],[271,-1.5],[273,0],[276,0.5],[277,-3.5],[279,-3],[282,-5],[284,4],[286,5],[288,3],[289,4],[291,2],[293,3.5],[294,4.5],[298,-1.5],[300,0],[305,-5],[306,-3],[308,0],[310,3.5],[312,2],[313,5],[315,0],[318,-2],[326,-1.5],[327,0],[331,-3],[333,-3.5],[335,-4],[340,-5.5],[342,-3],
 [344,-1.5],[346,-2.5],[350,-0.8],[352,-3],[355,-3.5],[357,-2.5],[360,-1.8],[364,-3],[366,-4.5],[367,0],[369,1],[371,-2],[374,-3],[376,1.5],[378,4.5],[379,-1.5],[381,1.8],[388,1.5],[392,-2],[396,2.5],[397,0],[398,1],[403,1.5],[406,3],[408,8],[409,4.5],[411,8],[413,10],[418,9],[420,8],[423,9],[425,8],[426,5],[428,8.5],[430,10],[432,9],[433,8],[437,5],[438,2],[440,-4],[442,2.5],[445,1],[446,2.5],[447,-1.5],[449,-2],[450,0],[452,-1.5],[457,0],[462,6],[463,4],[467,2.5],[469,0.5],[474,0],[477,-2],[484,-1.5],[486,-0.3],[492,1.5],[494,-3.5],[496,0.8],[499,-2.5],[501,1.2],[504,-1.5],[510,-2],
 [518,-3],[520,-3.5],[522,-4.5],[523,-0.5],[527,-1],[532,-1.5],[536,-2.5],[538,-2],[541,0.3],[543,-1.3],[547,2.5],[548,0],[553,2.5],[555,3],[557,2],[558,-1],[560,-2],[564,-2.5],[567,-3],[569,-1.5],[572,-2],[574,-3],[581,-4],[582,-2],[584,0.7],[586,-2.5],[588,-0.8],[591,0.7],[593,-3],[594,1],[596,-3],[598,5],[601,0],[604,-3.5],[606,0],[611,1],[613,-0.5],[618,1],[623,2.5],[624,2],[626,-0.5],[628,1],[631,7],[633,-2.3],[654,0],[655,-3.5],[657,-2.8],[662,-1.2],[664,0.5],[667,-5.5],[668,-1.5],[670,-3],[672,-5],[673,-2],[675,-5]];

// tree as in hclust: negative = leaf position in columnas, positive = earlier merge (1-based), last = height
const uniones = [
  [-2,-3,25.3],[-1,1,29.5],[-7,-8,12.2],[-6,3,21.9],[-5,4,31.4],[-4,5,31.4],[2,6,32.5],
  [-11,-12,9.0],[-10,8,10.5],[-9,9,14.2],[-13,-14,25.7],[10,11,27.3],[-15,-16,30.8],[12,13,33.6],[7,14,38.0]
];

const datosColumna = { algae, clo, cyano, nitrat, TOC, temp, ph, DO, EC, ammonia, iron, mang, turb, sulf, phos, nitrit };

const svg = d3.select("#chart");

const x = d3.scaleBand().domain(columnas).range([74, 3668]);
const filas = d3.range(totalFilas);
const y = d3.scaleBand().domain(filas).range([1002.6, 3337]);

// RdBu ramp, the middle is grey and not white in this picture
const color = d3.scaleLinear()
  .domain([-10,-8,-6,-4,-2,0,2,4,6,8,10])
  .range(["#053061","#2166AC","#4393C3","#92C5DE","#D1E5F0","#E0E0E0","#FDDBC7","#F4A582","#D6604D","#B2182B","#67001F"])
  .clamp(true);

// bands to one value per row
function aFilas(bandas) {
  const orden = bandas.slice().sort((a, b) => a[0] - b[0]);
  return filas.map(f => {
    let valor = orden[0][1];
    for (const b of orden) {
      if (b[0] <= f) valor = b[1];
      else break;
    }
    return valor;
  });
}

const celdas = [];
columnas.forEach(col => {
  aFilas(datosColumna[col]).forEach((v, f) => celdas.push({ col, f, v }));
});

svg.append("g").selectAll("rect")
  .data(celdas)
  .enter().append("rect")
  .attr("x", d => x(d.col))
  .attr("y", d => y(d.f))
  .attr("width", x.bandwidth())
  .attr("height", y.bandwidth() + 0.6)
  .style("fill", d => color(d.v));

// column labels, rotated, reading upwards
svg.append("g").selectAll("text")
  .data(columnas)
  .enter().append("text")
  .attr("transform", d => `translate(${x(d) + x.bandwidth() / 2 - 1},3393) rotate(-90)`)
  .attr("text-anchor", "end")
  .style("font-size", "50px")
  .text(d => d);

// dendrogram
const yTree = d3.scaleLinear().domain([0, 38]).range([967, 60]);
const centro = col => x(col) + x.bandwidth() / 2 + 2;
const nodos = [];
function punto(id) {
  if (id < 0) return { px: centro(columnas[-id - 1]), h: 0 };
  return nodos[id - 1];
}
const lineas = d3.path();
uniones.forEach(u => {
  const a = punto(u[0]), b = punto(u[1]);
  lineas.moveTo(a.px, yTree(a.h));
  lineas.lineTo(a.px, yTree(u[2]));
  lineas.lineTo(b.px, yTree(u[2]));
  lineas.lineTo(b.px, yTree(b.h));
  nodos.push({ px: (a.px + b.px) / 2, h: u[2] });
});
svg.append("path")
  .attr("d", lineas.toString())
  .attr("fill", "none")
  .attr("stroke", "#000")
  .attr("stroke-width", 2.6);
</script>
</body>
</html>
